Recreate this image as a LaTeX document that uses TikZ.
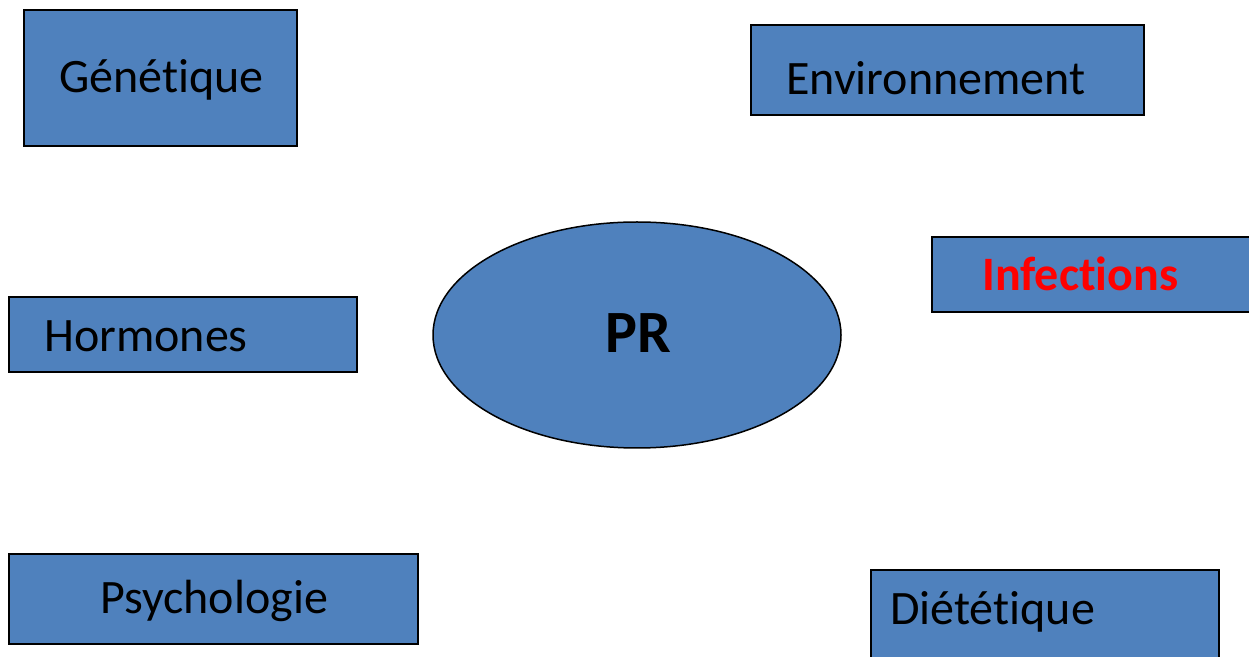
\documentclass[tikz,border=0pt]{standalone}
\usepackage{fontspec}
\setmainfont[RawFeature={-liga}]{Carlito}
\usepackage{xcolor}
\usetikzlibrary{shapes.geometric, positioning, calc}
\definecolor{officeblue}{HTML}{4F81BD}

\begin{document}
\begin{tikzpicture}[x=1pt, y=1pt,
    factor/.style={draw=black, line width=1.5pt, fill=officeblue, rectangle, inner sep=0pt},
    lbl/.style={font=\fontsize{48}{58}\selectfont, inner sep=0pt, anchor=base west}]
      \useasboundingbox (0,0) rectangle (1249,656);

      % Central disease node
      \node[draw=black, line width=1.5pt, fill=officeblue, ellipse, minimum width=408, minimum height=226, inner sep=0pt] (pr) at (637,321) {};
      \node[lbl, anchor=base, font=\fontsize{60}{70}\selectfont\bfseries] (pr-txt) at (638,303) {PR};

      % Factor boxes (left column)
      \node[factor, minimum width=273, minimum height=136] (genetique) at (160.5,578) {};
      \node[lbl] (genetique-txt) at (59,563) {Génétique};

      \node[factor, minimum width=348, minimum height=75] (hormones) at (183,321.5) {};
      \node[lbl] (hormones-txt) at (44,304) {Hormones};

      \node[factor, minimum width=409, minimum height=90] (psychologie) at (213.5,57) {};
      \node[lbl] (psychologie-txt) at (100,43) {Psychologie};

      % Factor boxes (right column)
      \node[factor, minimum width=393, minimum height=90] (environnement) at (947.5,586) {};
      \node[lbl] (environnement-txt) at (786,561) {Environnement};

      \node[factor, minimum width=328, minimum height=75] (infections) at (1096,381.5) {};
      \node[lbl, text=red, font=\fontsize{48}{58}\selectfont\bfseries] (infections-txt) at (982,365) {Infections};

      \node[factor, minimum width=348, minimum height=96] (dietetique) at (1045,38) {};
      \node[lbl] (dietetique-txt) at (890,32) {Diététique};
\end{tikzpicture}
\end{document}
